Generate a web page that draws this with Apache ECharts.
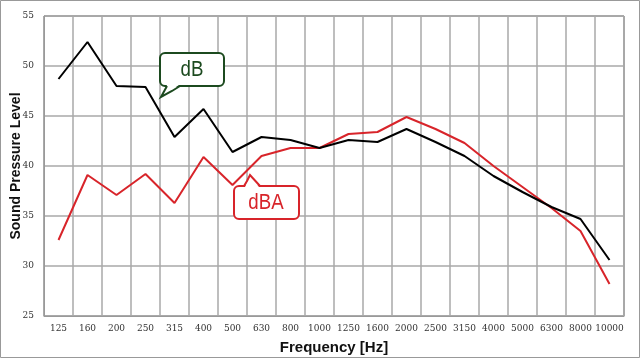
<!DOCTYPE html>
<html><head><meta charset="utf-8">
<script src="https://cdn.jsdelivr.net/npm/echarts@6/dist/echarts.min.js"></script>
<style>html,body{margin:0;padding:0;background:#fff;}#c{width:640px;height:358px;}</style>
</head><body><div id="c"></div>
<script>
const categories = ['125','160','200','250','315','400','500','630','800','1000','1250','1600','2000','2500','3150','4000','5000','6300','8000','10000'];
const dB  = [48.7,52.4,48.0,47.9,42.9,45.7,41.4,42.9,42.6,41.8,42.6,42.4,43.7,42.4,41.0,39.0,37.4,35.9,34.7,30.6];
const dBA = [32.6,39.1,37.1,39.2,36.3,40.9,38.1,41.0,41.8,41.8,43.2,43.4,44.9,43.7,42.3,40.0,37.9,35.8,33.5,28.2];
const yTicks = {min:25, max:55, interval:5};

const chart = echarts.init(document.getElementById('c'));
const green = '#1c4a1f', red = '#d8242a';
chart.setOption({
  animation:false,
  backgroundColor:'#fff',
  grid:{left:44,right:16,top:16,bottom:42,containLabel:false,outerBoundsMode:'none',show:true,borderColor:'#555',borderWidth:1},
  xAxis:{type:'category',data:categories,boundaryGap:true,
    name:'Frequency [Hz]',nameLocation:'middle',nameGap:24,
    nameTextStyle:{fontFamily:'Liberation Sans',fontWeight:'bold',fontSize:15,color:'#111'},
    axisLine:{lineStyle:{color:'#999',width:1}},axisTick:{show:false},
    axisLabel:{interval:0,fontSize:9,color:'#333',margin:8,fontFamily:'DejaVu Serif'},
    splitLine:{show:true,interval:0,lineStyle:{color:'#a8a8a8',width:1.5}}},
  yAxis:{type:'value',min:yTicks.min,max:yTicks.max,interval:yTicks.interval,
    axisLine:{show:true,lineStyle:{color:'#999'}},axisTick:{show:false},
    axisLabel:{fontSize:9,color:'#333',margin:10,fontFamily:'DejaVu Serif'},
    splitLine:{lineStyle:{color:'#a8a8a8',width:1.5}}},
  series:[
    {name:'dB',type:'line',data:dB,symbol:'none',lineStyle:{color:'#000',width:2},z:3},
    {name:'dBA',type:'line',data:dBA,symbol:'none',lineStyle:{color:red,width:2},z:2}
  ],
  graphic:[
    {type:'rect',shape:{x:0.5,y:0.5,width:639,height:357},style:{fill:'none',stroke:'#999',lineWidth:1},silent:true},
    {type:'text',x:16,y:166,rotation:Math.PI/2,originX:0,originY:0,style:{text:'Sound Pressure Level',fontSize:14,fontWeight:'bold',fontFamily:'Liberation Sans',fill:'#111',align:'center',verticalAlign:'middle'}},
    {type:'rect',shape:{x:160,y:53,width:64,height:33,r:5},style:{fill:'#fff',stroke:green,lineWidth:2},z:10},
    {type:'polygon',shape:{points:[[167,85],[161,97],[179,85]]},style:{fill:'#fff'},z:11},
    {type:'polyline',shape:{points:[[167,86],[161,97],[172,91],[180,86]]},style:{stroke:green,lineWidth:2,fill:'none'},z:11},
    {type:'text',x:192,y:70,scaleX:0.85,originX:0,originY:0,style:{text:'dB',fontSize:22,fontFamily:'Liberation Sans',fill:green,align:'center',verticalAlign:'middle'},z:12},
    {type:'rect',shape:{x:234,y:186,width:65,height:33,r:5},style:{fill:'#fff',stroke:red,lineWidth:2},z:10},
    {type:'polygon',shape:{points:[[245,187],[250,175],[259,187]]},style:{fill:'#fff'},z:11},
    {type:'polyline',shape:{points:[[244,186],[247,181],[250,175],[260,186]]},style:{stroke:red,lineWidth:2,fill:'none'},z:11},
    {type:'text',x:266,y:203,scaleX:0.85,originX:0,originY:0,style:{text:'dBA',fontSize:22,fontFamily:'Liberation Sans',fill:red,align:'center',verticalAlign:'middle'},z:12}
  ]
});
</script></body></html>
